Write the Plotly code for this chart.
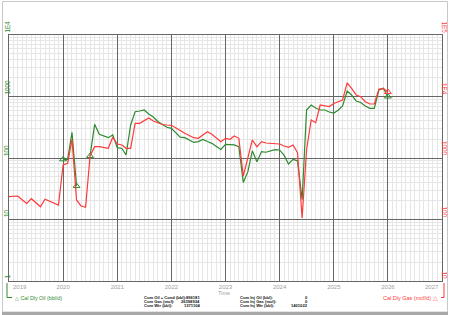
import plotly.graph_objects as go
import pandas as pd
import math

months = pd.date_range("2019-01-01", periods=85, freq="MS")

gas_mcfd = [235, 241, 241, 208, 183, 218, 185, 161, 213, 200, 183, 172,
            769, 820, 2014, 208, 166, 158, 1078, 1528, 1528, 1482, 1438, 2172,
            1690, 1627, 1438, 1438, 3664, 3664, 3996, 4470, 3996, 3707, 3505, 3441,
            3403, 3076, 2781, 2522, 2323, 2138, 2090, 2366, 2677, 2427, 2114, 1841,
            2090, 2014, 2280, 2090, 509, 988, 1963, 1528, 1841, 1754, 1740, 1730,
            1690, 1567, 1493, 1627, 1219, 106, 1349, 4150, 3750, 7278, 7015, 6871,
            7697, 8143, 8770, 16600, 13600, 10570, 9930, 8230, 7550, 7550, 13100, 13600, 11830]

oil_bbld = [None] * 12 + [
            95, 95, 262, 35, None, None, 108, 353, 243, 228, 214, 237,
            147, 143, 112, 344, 566, 581, 603, 519, 464, 392, 357, 316,
            304, 255, 219, 214, 196, 179, 185, 201, 185, 173, 154, 138,
            166, 163, 163, 153, 40, 60, 131, 87, 127, 124, 130, 137,
            135, 110, 80, 95, 90, 21, 603, 728, 650, 603, 603, 560,
            539, 603, 701, 1228, 1057, 845, 798, 701, 643, 643, 1276, 1358, 1000]

oil_marker_idx = [12, 15, 18, 84]
gas_marker_idx = [84]

oil_ticks = [1, 10, 100, 1000, 10000]
oil_ticktext = ["1", "10", "100", "1000", "1E4"]
gas_ticks = [10, 100, 1000, 10000, 100000]
gas_ticktext = ["10", "100", "1000", "1E4", "1E5"]
year_ticks = ["2020", "2021", "2022", "2023", "2024", "2025", "2026"]
edge_years = ["2019", "2027"]

cum_labels_left = ["Cum Oil + Cond (bbl):", "Cum Gas (mcf):", "Cum Wtr (bbl):"]
cum_values_left = ["896181", "26398934", "1371104"]
cum_labels_right = ["Cum Inj Oil (bbl):", "Cum Inj Gas (mcf):", "Cum Inj Wtr (bbl):"]
cum_values_right = ["0", "0", "1401022"]

GREEN = "#2f8a2f"
RED = "#ff3a3a"
MAJ = "#666666"
MIN = "#e6e6e6"
GRAYTXT = "#a0a0a0"
FONT = "Liberation Sans"

W, H = 450, 315
L, R, T, B = 9, 8, 35, 34
pw, ph = W - L - R, H - T - B


def px(x):
    return (x - L) / pw


def py(y):
    return (H - B - y) / ph


fig = go.Figure()
fig.add_trace(go.Scatter(x=months, y=gas_mcfd, yaxis="y2", mode="lines",
                         line=dict(color=RED, width=1.2), showlegend=False))
fig.add_trace(go.Scatter(x=months, y=oil_bbld, yaxis="y", mode="lines",
                         line=dict(color=GREEN, width=1.2), connectgaps=False,
                         showlegend=False))
fig.add_trace(go.Scatter(x=[months[i] for i in gas_marker_idx],
                         y=[gas_mcfd[i] for i in gas_marker_idx], yaxis="y2",
                         mode="markers", marker=dict(symbol="triangle-up-open", size=6,
                                                     color=RED, line=dict(width=1)),
                         showlegend=False))
fig.add_trace(go.Scatter(x=[months[i] for i in oil_marker_idx],
                         y=[oil_bbld[i] for i in oil_marker_idx], yaxis="y",
                         mode="markers", marker=dict(symbol="triangle-up-open", size=6,
                                                     color=GREEN, line=dict(width=1)),
                         showlegend=False))

annotations = []
for v, t in zip(oil_ticks, oil_ticktext):
    annotations.append(dict(x=px(6.6), y=math.log10(v), xref="paper", yref="y", text=t,
                            textangle=-90, showarrow=False, xanchor="center", yanchor="bottom",
                            font=dict(size=6.3, color=GREEN, family=FONT)))
for v, t in zip(gas_ticks, gas_ticktext):
    annotations.append(dict(x=px(444.5), y=math.log10(v), xref="paper", yref="y2", text=t,
                            textangle=90, showarrow=False, xanchor="center", yanchor="bottom",
                            font=dict(size=6.3, color=RED, family=FONT)))
for yr in edge_years:
    annotations.append(dict(x=f"{yr}-01-01", y=py(286.5), xref="x", yref="paper",
                            text=yr, showarrow=False, yanchor="middle",
                            xanchor="left" if yr == "2019" else "right",
                            xshift=2 if yr == "2019" else -1,
                            font=dict(size=6.0, color=GRAYTXT, family=FONT)))
annotations.append(dict(x=px(224), y=py(293.3), xref="paper", yref="paper", text="Time",
                        showarrow=False, xanchor="center", yanchor="middle",
                        font=dict(size=5.6, color=GRAYTXT, family=FONT)))
annotations.append(dict(x=px(13), y=py(297.5), xref="paper", yref="paper",
                        text="△ Cal Dly Oil (bbl/d)", showarrow=False, xanchor="left",
                        yanchor="middle", font=dict(size=5.3, color=GREEN, family=FONT)))
annotations.append(dict(x=px(440), y=py(297.5), xref="paper", yref="paper",
                        text="Cal Dly Gas (mcf/d) △", showarrow=False, xanchor="right",
                        yanchor="middle", font=dict(size=5.5, color=RED, family=FONT)))
rows = [297.3, 301.6, 305.9]
for i, yy in enumerate(rows):
    for lab, x0, anchor in [(cum_labels_left[i], 143, "left"), (cum_values_left[i], 201, "right"),
                            (cum_labels_right[i], 239, "left"), (cum_values_right[i], 309, "right")]:
        annotations.append(dict(x=px(x0), y=py(yy), xref="paper", yref="paper", text=f"<b>{lab}</b>",
                                showarrow=False, xanchor=anchor, yanchor="middle", borderpad=0,
                                font=dict(size=4.1, color="#111111", family=FONT)))

shapes = [
    dict(type="rect", xref="paper", yref="paper", x0=px(2.5), x1=px(447.5), y0=py(312), y1=py(1.5),
         line=dict(color="#c8c8c8", width=1), layer="below"),
    dict(type="rect", xref="paper", yref="paper", x0=px(2), x1=px(448), y0=py(315), y1=py(312),
         line=dict(width=0), fillcolor="#a8a8a8"),
    dict(type="path", xref="paper", yref="paper",
         path=f"M {px(7)} {py(283)} L {px(7)} {py(297.5)} L {px(12)} {py(297.5)}",
         line=dict(color=GREEN, width=1)),
    dict(type="path", xref="paper", yref="paper",
         path=f"M {px(444)} {py(283)} L {px(444)} {py(297.5)} L {px(441)} {py(297.5)}",
         line=dict(color=RED, width=1)),
]

fig.update_layout(
    width=W, height=H, margin=dict(l=L, r=R, t=T, b=B),
    paper_bgcolor="white", plot_bgcolor="white",
    font=dict(family=FONT),
    annotations=annotations, shapes=shapes,
    xaxis=dict(type="date", range=["2019-01-01", "2027-01-01"],
               tickvals=[f"{y}-01-01" for y in year_ticks], ticktext=year_ticks,
               showgrid=True, gridcolor=MAJ, gridwidth=1,
               minor=dict(dtick="M1", showgrid=True, gridcolor=MIN, gridwidth=1),
               showline=True, linecolor=MAJ, mirror=True, ticks="", ticklabelstandoff=0,
               tickfont=dict(size=6.0, color=GRAYTXT, family=FONT), zeroline=False),
    yaxis=dict(type="log", range=[0, 4], tickvals=oil_ticks, showticklabels=False,
               showgrid=True, gridcolor=MAJ, gridwidth=1,
               minor=dict(dtick="D1", showgrid=True, gridcolor=MIN, gridwidth=1),
               showline=True, linecolor=MAJ, mirror=True, ticks="", zeroline=False),
    yaxis2=dict(type="log", range=[1, 5], overlaying="y", side="right",
                showticklabels=False, showgrid=False, ticks="", zeroline=False),
)

fig.write_html("out.html")
